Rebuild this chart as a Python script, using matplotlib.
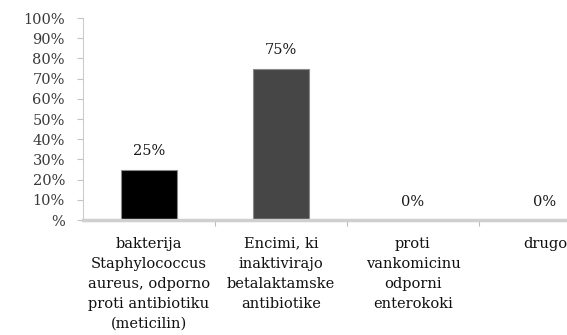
import matplotlib.pyplot as plt

categories = [
    "bakterija\nStaphylococcus\naureus, odporno\nproti antibiotiku\n(meticilin)",
    "Encimi, ki\ninaktivirajo\nbetalaktamske\nantibiotike",
    "proti\nvankomicinu\nodporni\nenterokoki",
    "drugo",
]
shares = [25, 75, 0, 0]
bar_colors = ["#000000", "#464646", "#464646", "#464646"]
yticks = [0, 10, 20, 30, 40, 50, 60, 70, 80, 90, 100]
ytick_labels = ["%"] + [f"{v}%" for v in yticks[1:]]

plt.rcParams["font.family"] = ["DejaVu Serif"]

fig = plt.figure(figsize=(5.67, 3.35), dpi=100)
ax = fig.add_axes([0.1464, 0.343, 0.931, 0.603])

xs = list(range(len(categories)))
ax.bar(xs, shares, width=0.42, color=bar_colors, edgecolor="#8a8a8a", linewidth=0.8, zorder=2)

for x, v in zip(xs, shares):
    ax.annotate(f"{v}%", (x, v), xytext=(0, 8), textcoords="offset points",
                ha="center", va="bottom", fontsize=10.5, color="#1a1a1a")

ax.set_xlim(-0.5, 3.5)
ax.set_ylim(0, 100)
ax.set_yticks(yticks)
ax.set_yticklabels(ytick_labels, fontsize=10.5, color="#3a3a3a")

# category labels sit between boundary ticks
ax.set_xticks([0.5, 1.5, 2.5])
ax.set_xticklabels([])
ax.set_xticks(xs, minor=True)
ax.set_xticklabels(categories, minor=True, fontsize=10.5, color="#111111", linespacing=1.55)
ax.tick_params(axis="x", which="minor", length=0, pad=12)
ax.tick_params(axis="x", which="major", length=4, color="#bbbbbb")
ax.tick_params(axis="y", length=4, color="#c4c4c4", pad=9)

for side in ["top", "right"]:
    ax.spines[side].set_visible(False)
ax.spines["left"].set_color("#cccccc")
ax.spines["bottom"].set_color("#cfcfcf")
ax.spines["bottom"].set_linewidth(2.5)

fig.savefig("out.png", dpi=100)
